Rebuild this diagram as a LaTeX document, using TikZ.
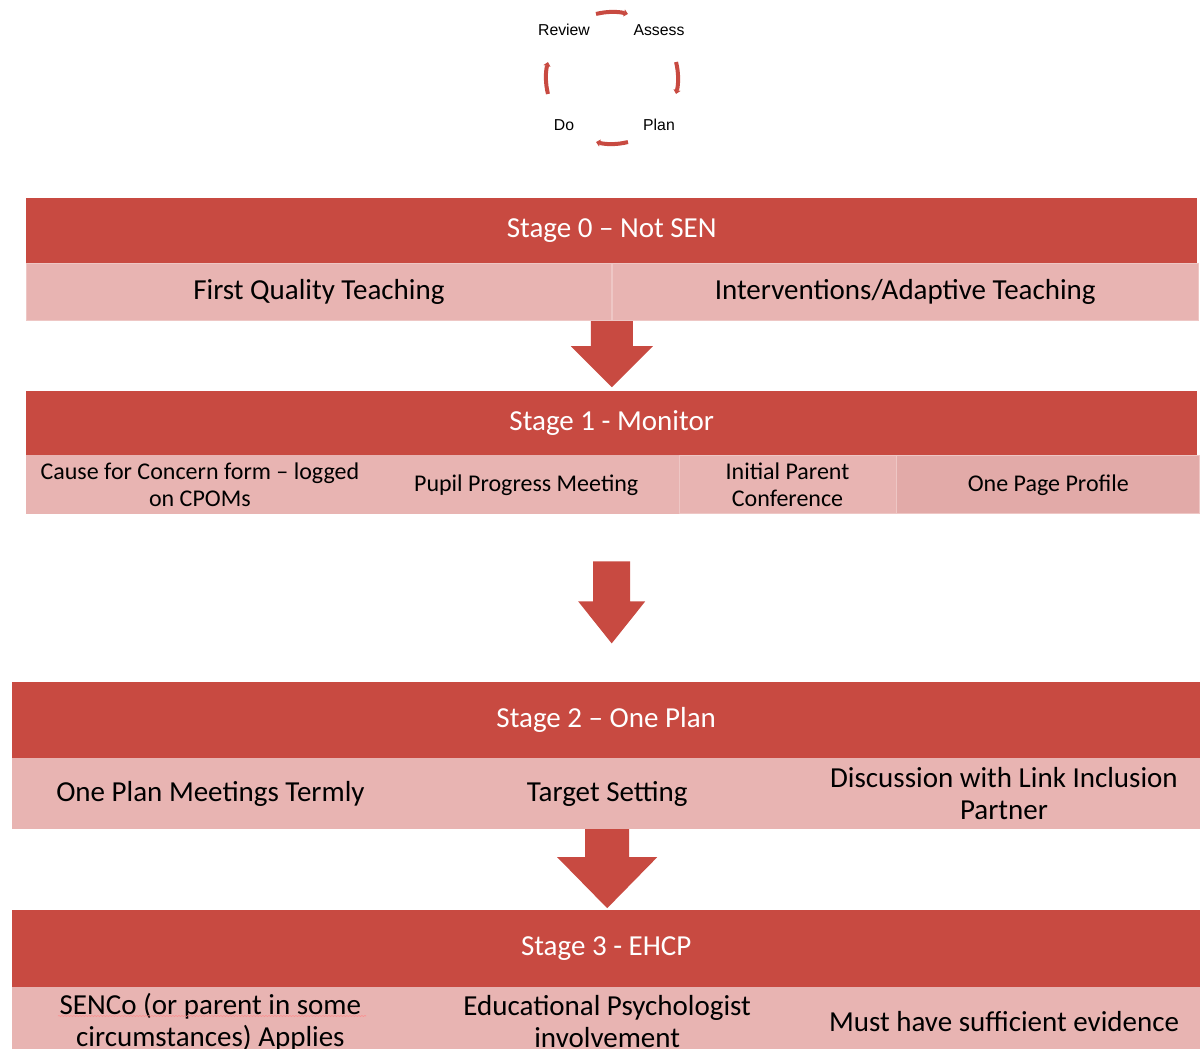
\documentclass[tikz,border=0pt]{standalone}
\usepackage{fontspec}
\setmainfont{Carlito}
\newfontfamily\cyclefont{Liberation Sans}
\usetikzlibrary{calc,arrows.meta,decorations.pathmorphing}

\definecolor{stagered}{HTML}{C84A41}
\definecolor{cellpink}{HTML}{E8B4B2}
\definecolor{cellpinkdark}{HTML}{E2AAA8}
\definecolor{cellline}{HTML}{EEC7C5}

\tikzset{
    stagehead/.style={fill=stagered, text=white, inner sep=0pt, anchor=north west,
            font=\fontsize{29}{32}\selectfont},
    cell/.style={fill=cellpink, draw=cellline, line width=0.8pt, inner sep=0pt,
            anchor=north west, align=center, text=black,
            font=\fontsize{29}{32}\selectfont},
    smallcell/.style={cell, font=\fontsize{24}{27}\selectfont},
    cyclearc/.style={draw=stagered, line width=4pt, -{Triangle[length=4pt, width=7pt]}},
    cyclelabel/.style={font=\cyclefont\fontsize{15.8}{18}\selectfont, inner sep=0pt}
}

\begin{document}
\begin{tikzpicture}[x=1pt, y=-1pt]
    \useasboundingbox (0,0) rectangle (1200,1049);

    % Cycle
    \coordinate (cyc) at (612,78);
    \foreach \a in {0,90,180,270} {
            \draw[cyclearc] ($(cyc)+(\a-14:66)$) arc[start angle=\a-14, end angle=\a+14, radius=66];
        }
    \node[cyclelabel] (review) at (564,30) {Review};
    \node[cyclelabel] (assess) at (659,30) {Assess};
    \node[cyclelabel] (do) at (564,125) {Do};
    \node[cyclelabel] (plan) at (659,125) {Plan};

    % Stage 0
    \node[stagehead, minimum width=1171pt, minimum height=65pt] (s0) at (26,198) {Stage 0 -- Not SEN};
    \node[cell, minimum width=585pt, minimum height=57pt] (s0c1) at (s0.south west) {First Quality Teaching};
    \node[cell, minimum width=586pt, minimum height=57pt] (s0c2) at (s0c1.north east) {Interventions/Adaptive Teaching};

    % Stage 1
    \node[stagehead, minimum width=1171pt, minimum height=64pt] (s1) at (26,391) {Stage 1 - Monitor};
    \node[smallcell, draw=cellpink, minimum width=347pt, minimum height=58pt] (s1c1) at (s1.south west) {Cause for Concern form -- logged\\on CPOMs};
    \node[smallcell, draw=cellpink, minimum width=304pt, minimum height=58pt] (s1c2) at (s1c1.north east) {Pupil Progress Meeting};
    \node[smallcell, minimum width=217pt, minimum height=58pt] (s1c3) at (s1c2.north east) {Initial Parent\\Conference};
    \node[smallcell, fill=cellpinkdark, minimum width=303pt, minimum height=58pt] (s1c4) at (s1c3.north east) {One Page Profile};

    % Stage 2
    \node[stagehead, minimum width=1188pt, minimum height=76pt] (s2) at (12,682) {Stage 2 -- One Plan};
    \node[cell, draw=cellpink, minimum width=396pt, minimum height=70pt] (s2c1) at (s2.south west) {One Plan Meetings Termly};
    \node[cell, draw=cellpink, minimum width=396pt, minimum height=70pt] (s2c2) at (s2c1.north east) {Target Setting};
    \node[cell, draw=cellpink, minimum width=396pt, minimum height=70pt] (s2c3) at (s2c2.north east) {Discussion with Link Inclusion\\Partner};

    % Stage 3
    \node[stagehead, minimum width=1188pt, minimum height=77pt] (s3) at (12,910) {Stage 3 - EHCP};
    \node[cell, draw=cellpink, minimum width=396pt, minimum height=68pt] (s3c1) at (s3.south west) {SENCo (or parent in some\\circumstances) Applies};
    \node[cell, draw=cellpink, minimum width=396pt, minimum height=68pt] (s3c2) at (s3c1.north east) {Educational Psychologist\\involvement};
    \node[cell, draw=cellpink, minimum width=396pt, minimum height=68pt] (s3c3) at (s3c2.north east) {Must have sufficient evidence};
    \draw[red!45, line width=0.6pt, decorate, decoration={snake, amplitude=0.5pt, segment length=3pt}]
        (58,1016) -- (366,1016);

    % Block arrows
    \fill[stagered] ($(s0c1.south east)+(-21,0)$) -- ++(0,25) -- ++(-20,0) -- ++(41,41)
        -- ++(41,-41) -- ++(-20,0) -- ++(0,-25) -- cycle;
    \fill[stagered] ($(s1.south)+(-18.5,106)$) -- ++(0,40) -- ++(-15,0) -- ++(33.5,42)
        -- ++(33.5,-42) -- ++(-15,0) -- ++(0,-40) -- cycle;
    \fill[stagered] ($(s2c2.south)+(-22,0)$) -- ++(0,28) -- ++(-28,0) -- ++(50,51)
        -- ++(50,-51) -- ++(-28,0) -- ++(0,-28) -- cycle;
\end{tikzpicture}
\end{document}
